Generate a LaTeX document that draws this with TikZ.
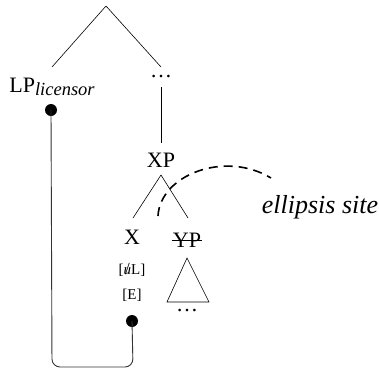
\documentclass[tikz,border=0pt]{standalone}
\usepackage{fontspec}
\setmainfont{Liberation Serif}
\begin{document}
\begin{tikzpicture}[x=1pt,y=-1pt,
  lbl/.style={inner sep=0pt, font=\fontsize{22}{24}\selectfont},
  feat/.style={inner sep=0pt, font=\fontsize{15}{17}\selectfont},
  dotn/.style={circle, fill=black, inner sep=0pt, minimum size=12pt},
  branch/.style={line width=0.6pt},
  link/.style={line width=0.9pt, black!80, rounded corners=8pt},
  ell/.style={line width=1.6pt, dash pattern=on 9pt off 6pt}]
\useasboundingbox (0,0) rectangle (379,370);
\coordinate (top) at (106,6);
\node[lbl] (lp) at (52,87) {LP\raisebox{-3pt}{\fontsize{18.5}{20}\selectfont\itshape licensor}};
\node[lbl] (dots1) at (161,77) {\dots};
\node[dotn] (d1) at (51,110) {};
\node[lbl] (xp) at (161,160) {XP};
\coordinate (xpb) at (161,175);
\node[lbl] (x) at (132,237) {X};
\node[lbl] (yp) at (187,240) {YP};
\draw[line width=0.8pt] ([xshift=-1pt]yp.west) -- ([xshift=1pt]yp.east);
\node[feat] (ul) at (132,270) {[\ooalign{\itshape u\cr\hidewidth\fontsize{17}{17}\selectfont/\hidewidth}L]};
\node[feat] (e) at (132,295) {[E]};
\node[dotn] (d2) at (132,321) {};
\coordinate (tri) at (187,258);
\coordinate (tril) at (167,302);
\coordinate (trir) at (209,302);
\node[lbl] (dots2) at (187,311) {\dots};
\node[inner sep=0pt, font=\fontsize{26}{28}\selectfont\itshape] (es) at (320,207) {ellipsis site};
\coordinate (bl) at (52,367);
\coordinate (br) at (133,367);
\coordinate (es1) at (158,216);
\coordinate (es2) at (271,178);
% branches
\draw[branch] (top) -- (52,67);
\draw[branch] (top) -- (161,67);
\draw[branch] (dots1) ++(0,10) -- (161,143);
\draw[branch] (xpb) -- (133,218);
\draw[branch] (xpb) -- (188,218);
\draw[branch] (tri) -- (tril) -- (trir) -- cycle;
% link
\draw[link] (d1.center) -- (bl) -- (br) -- (d2.center);
% ellipsis arc
\draw[ell] (es1) .. controls (160,175) and (225,150) .. (es2);
\end{tikzpicture}
\end{document}
